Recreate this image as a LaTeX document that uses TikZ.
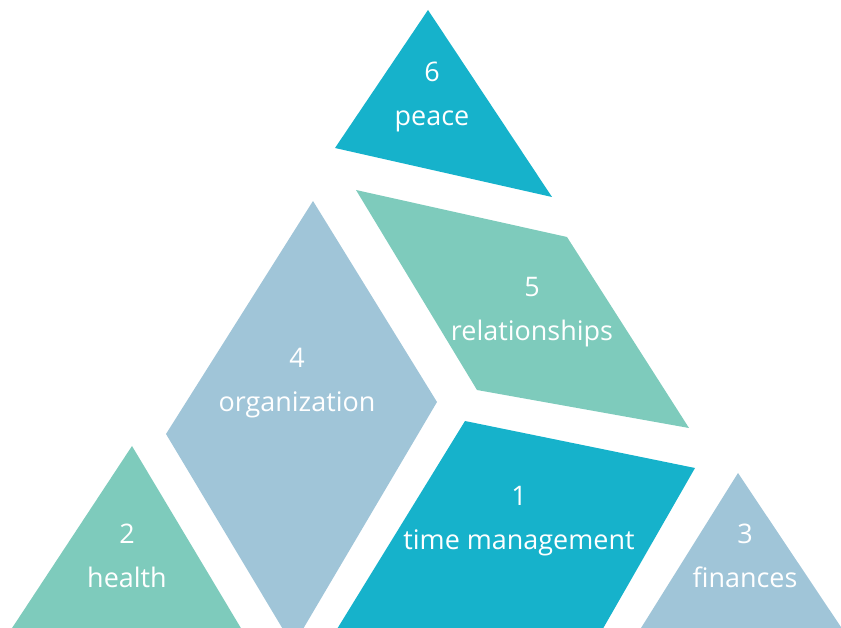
\documentclass[tikz,border=0pt]{standalone}
\usepackage{fontspec}
\setmainfont{Open Sans}

\definecolor{tealdark}{HTML}{16B2CB}
\definecolor{mint}{HTML}{7ECBBC}
\definecolor{steel}{HTML}{A0C5D8}

\begin{document}
\begin{tikzpicture}[
    x=0.3mm, y=-0.3mm,
    piece/.style={draw=none},
    lbl/.style={text=white, font=\fontsize{23}{37}\selectfont, align=center, inner sep=0pt},
  ]
    \useasboundingbox (0,0) rectangle (841,628);
    \clip (0,0) rectangle (841,628);

    % === Top: peace ===
    \fill[piece, tealdark] (428,10) -- (552,197) -- (335,148) -- cycle;
    \node[lbl] (peace) at (432,97) {6\\peace};

    % === Middle right: relationships ===
    \fill[piece, mint] (356,190) -- (567,237) -- (689,428) -- (477,390) -- cycle;
    \node[lbl] (rel) at (532,312) {5\\relationships};

    % === Middle left: organization ===
    \fill[piece, steel] (313,201) -- (437,402) -- (293,646) -- (166,434) -- cycle;
    \node[lbl] (org) at (297,383) {4\\organization};

    % === Bottom middle: time management ===
    \fill[piece, tealdark] (465,421) -- (695,468) -- (585,660) -- (318,660) -- cycle;
    \node[lbl] (time) at (519,521) {1\\time management};

    % === Bottom corners: health, finances ===
    \fill[piece, mint] (132,446) -- (260,660) -- (-9,660) -- cycle;
    \node[lbl] (health) at (127,556) {2\\health};

    \fill[piece, steel] (738,473) -- (863,660) -- (621,660) -- cycle;
    \node[lbl] (fin) at (745,556) {3\\finances};
  \end{tikzpicture}
\end{document}
